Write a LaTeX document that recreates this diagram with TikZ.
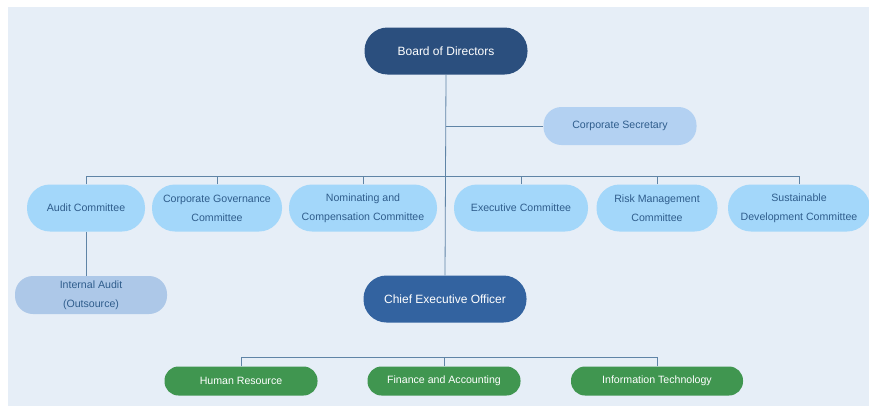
\documentclass[tikz,border=0pt]{standalone}
\usepackage{fontspec}
\setmainfont{Liberation Sans}
\usetikzlibrary{positioning}
\definecolor{bgblue}{HTML}{E6EEF7}
\definecolor{navy}{HTML}{2B4F7E}
\definecolor{ceoblue}{HTML}{3363A0}
\definecolor{secblue}{HTML}{B3D1F2}
\definecolor{skyblue}{HTML}{A3D7FA}
\definecolor{auditblue}{HTML}{ADC8E8}
\definecolor{deptgreen}{HTML}{409650}
\definecolor{linkblue}{HTML}{5F84A6}
\definecolor{txtblue}{HTML}{2F5D8C}
\newcommand {\committee}[4] {\node[comm, minimum width=#3] (#1) at (#2,208) {#4};}
\newcommand {\dept}[3] {\node[dept] (#1) at (#2,381) {#3};}

\begin{document}
\begin{tikzpicture}[x=1pt, y=-1pt,
    box/.style={rectangle, inner sep=0pt, align=center},
    top/.style={box, fill=#1, text=white, minimum width=163, minimum height=47,
        rounded corners=23, font=\fontsize{12}{14}\selectfont},
    comm/.style={box, fill=skyblue, text=txtblue, minimum height=47,
        rounded corners=23, font=\fontsize{10.6}{19}\selectfont},
    dept/.style={box, fill=deptgreen, text=white, minimum width=153, minimum height=29,
        rounded corners=14, font=\fontsize{10.6}{12}\selectfont},
    link/.style={draw=linkblue, line width=0.8pt}]
    \useasboundingbox (0,0) rectangle (869,407);
    \fill[bgblue] (8,7) rectangle (869,406);
    % board, secretary and ceo
    \node[top=navy] (bod) at (446,51) {Board of Directors};
    \node[box, fill=secblue, text=txtblue, minimum width=153, minimum height=38,
        rounded corners=18, font=\fontsize{10.6}{12}\selectfont] (sec) at (620,126) {Corporate Secretary};
    \node[top=ceoblue] (ceo) at (445,299) {Chief Executive Officer};
    % committees
    \committee{audit}{86}{118}{Audit Committee}
    \committee{gov}{217}{130}{Corporate Governance\\Committee}
    \committee{nom}{363}{148}{Nominating and\\Compensation Committee}
    \committee{exe}{521}{134}{Executive Committee}
    \committee{risk}{657}{121}{Risk Management\\Committee}
    \committee{sus}{799}{142}{Sustainable\\Development Committee}
    \node[box, fill=auditblue, text=txtblue, minimum width=152, minimum height=38,
        rounded corners=18, font=\fontsize{10.6}{19}\selectfont] (int) at (91,295) {Internal Audit\\(Outsource)};
    % departments
    \dept{hr}{241}{Human Resource}
    \dept{fin}{444}{Finance and Accounting}
    \node[dept, minimum width=172] (it) at (657,381) {Information Technology};
    % connectors
    \coordinate (bus) at (446,176);
    \coordinate (low) at (445,357);
    \path[link] (bod.south) -- (ceo.north);
    \path[link] (sec.west) -- (sec.west -| bod.south);
    \foreach \n in {audit,gov,nom,exe,risk,sus}
        \path[link] (\n.north) |- (bus);
    \path[link] (audit.south) -- (audit.south |- int.north);
    \foreach \n in {hr,fin,it}
        \path[link] (\n.north) |- (low);
\end{tikzpicture}
\end{document}
